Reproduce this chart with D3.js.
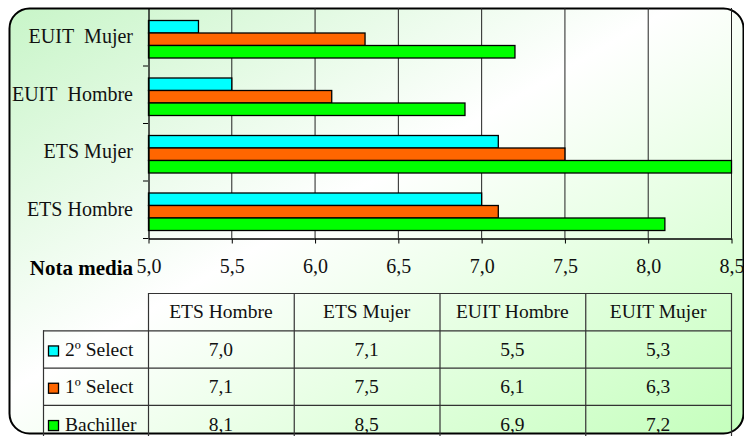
<!DOCTYPE html>
<html><head><meta charset="utf-8">
<script src="https://cdn.jsdelivr.net/npm/d3@7"></script>
</head><body style="margin:0">
<script>
const categories = ["ETS Hombre", "ETS Mujer", "EUIT Hombre", "EUIT Mujer"];
const seriesNames = ["2º Select", "1º Select", "Bachiller"];
const select2 = [7.0, 7.1, 5.5, 5.3];
const select1 = [7.1, 7.5, 6.1, 6.3];
const bachiller = [8.1, 8.5, 6.9, 7.2];
const xTicks = [5.0, 5.5, 6.0, 6.5, 7.0, 7.5, 8.0, 8.5];
const colors = ["#00ffff", "#ff6600", "#00ff00"];
const axisTitle = "Nota media";

const series = [select2, select1, bachiller];
const W = 744, H = 436;
const fmt = v => d3.format(".1f")(v).replace(".", ",");
const FONT = '"Liberation Serif"';

const svg = d3.select("body").append("svg").attr("width", W).attr("height", H)
  .style("display", "block").style("font-family", FONT);
const defs = svg.append("defs");
const grad = defs.append("linearGradient").attr("id", "bg")
  .attr("x1", "0%").attr("y1", "0%").attr("x2", "100%").attr("y2", "100%");
grad.append("stop").attr("offset", "0%").attr("stop-color", "#c8f5c8");
grad.append("stop").attr("offset", "45%").attr("stop-color", "#ffffff");
grad.append("stop").attr("offset", "100%").attr("stop-color", "#c4ffbc");

svg.append("rect").attr("x", 9.5).attr("y", 8.5).attr("width", 734).attr("height", 425)
  .attr("rx", 20).attr("ry", 20).attr("fill", "url(#bg)").attr("stroke", "#000").attr("stroke-width", 2);

const plot = {left: 148, right: 731, top: 8, bottom: 238};
const x = d3.scaleLinear().domain([5.0, 8.5]).range([plot.left, plot.right]);
const y = d3.scaleBand().domain(categories.slice().reverse()).range([plot.top, plot.bottom]).paddingInner(0).paddingOuter(0);
const inner = d3.scaleBand().domain(d3.range(3)).range([0, y.bandwidth()]).paddingInner(0).paddingOuter(0.8).align(0.6);

svg.append("g").selectAll("line").data(xTicks.slice(1)).join("line")
  .attr("x1", d => x(d) + 0.5).attr("x2", d => x(d) + 0.5)
  .attr("y1", plot.top).attr("y2", plot.bottom)
  .attr("stroke", "#222").attr("stroke-width", 1);

const g = svg.append("g");
categories.forEach((c, ci) => {
  series.forEach((s, si) => {
    g.append("rect")
      .attr("x", x(5.0) + 0.5)
      .attr("y", y(c) + inner(si) + 0.5)
      .attr("width", x(s[ci]) - x(5.0))
      .attr("height", inner.bandwidth())
      .attr("fill", colors[si]).attr("stroke", "#000").attr("stroke-width", 1.3);
  });
});

const xa = svg.append("g").attr("transform", `translate(0.5,${plot.bottom + 0.5})`)
  .call(d3.axisBottom(x).tickValues(xTicks).tickFormat("").tickSize(5).tickSizeOuter(0));
xa.attr("font-family", null);
xa.select(".domain").attr("stroke", "#000").attr("stroke-width", 1.3);
xa.selectAll(".tick line").attr("stroke", "#000");

function txt(sel, size) {
  return sel.style("font-family", FONT).style("font-size", (size || 19.5) + "px").attr("fill", "#111");
}
txt(svg.append("g").selectAll("text").data(xTicks).join("text")
  .attr("x", d => x(d) + 1).attr("y", 273).attr("text-anchor", "middle").text(fmt), 20);
txt(svg.append("text").attr("x", 133).attr("y", 275).attr("text-anchor", "end")
  .style("font-weight", "bold").text(axisTitle), 21).attr("fill", "#000");

const ya = svg.append("g").attr("transform", `translate(${plot.left + 0.5},0.5)`)
  .call(d3.axisLeft(y).tickSize(0).tickFormat(""));
ya.select(".domain").attr("stroke", "#000").attr("stroke-width", 1.3);
const bounds = categories.map(c => y(c));
svg.append("g").selectAll("line").data(bounds.concat([plot.bottom]).filter(d => d > plot.top + 1)).join("line")
  .attr("x1", plot.left - 5).attr("x2", plot.left).attr("y1", d => d + 0.5).attr("y2", d => d + 0.5)
  .attr("stroke", "#000");
txt(svg.append("g").selectAll("text").data(categories).join("text")
  .attr("x", 133).attr("y", d => y(d) + y.bandwidth() / 2 + 6.5).attr("text-anchor", "end")
  .text(d => d.replace("EUIT ", "EUIT\u00a0 ")), 20);

const cols = d3.scaleBand().domain(categories).range([plot.left, plot.right]);
const rowTop = 293, rowH = 37.3;
const tbl = svg.append("g").attr("stroke", "#333").attr("stroke-width", 1.2);
tbl.append("line").attr("x1", plot.left).attr("x2", plot.right).attr("y1", rowTop + 0.5).attr("y2", rowTop + 0.5);
for (let r = 1; r <= 3; r++) {
  tbl.append("line").attr("x1", 43).attr("x2", plot.right).attr("y1", rowTop + r * rowH + 0.5).attr("y2", rowTop + r * rowH + 0.5);
}
tbl.append("line").attr("x1", 43.5).attr("x2", 43.5).attr("y1", rowTop + rowH).attr("y2", H);
categories.forEach(c => {
  tbl.append("line").attr("x1", cols(c) + 0.5).attr("x2", cols(c) + 0.5).attr("y1", rowTop).attr("y2", H);
});
tbl.append("line").attr("x1", plot.right + 0.5).attr("x2", plot.right + 0.5).attr("y1", rowTop).attr("y2", H);

txt(svg.append("g").selectAll("text").data(categories).join("text")
  .attr("x", d => cols(d) + cols.bandwidth() / 2).attr("y", rowTop + rowH / 2 + 6)
  .attr("text-anchor", "middle").text(d => d));

series.forEach((s, si) => {
  const cy = rowTop + (si + 1) * rowH + rowH / 2;
  svg.append("rect").attr("x", 48.5).attr("y", cy - 3).attr("width", 10).attr("height", 10)
    .attr("fill", colors[si]).attr("stroke", "#000").attr("stroke-width", 1.3);
  txt(svg.append("text").attr("x", 65).attr("y", cy + 7).text(seriesNames[si]));
  txt(svg.append("g").selectAll("text").data(categories).join("text")
    .attr("x", d => cols(d) + cols.bandwidth() / 2).attr("y", cy + 7)
    .attr("text-anchor", "middle").text((d, i) => fmt(s[i])));
});
</script>
</body></html>
